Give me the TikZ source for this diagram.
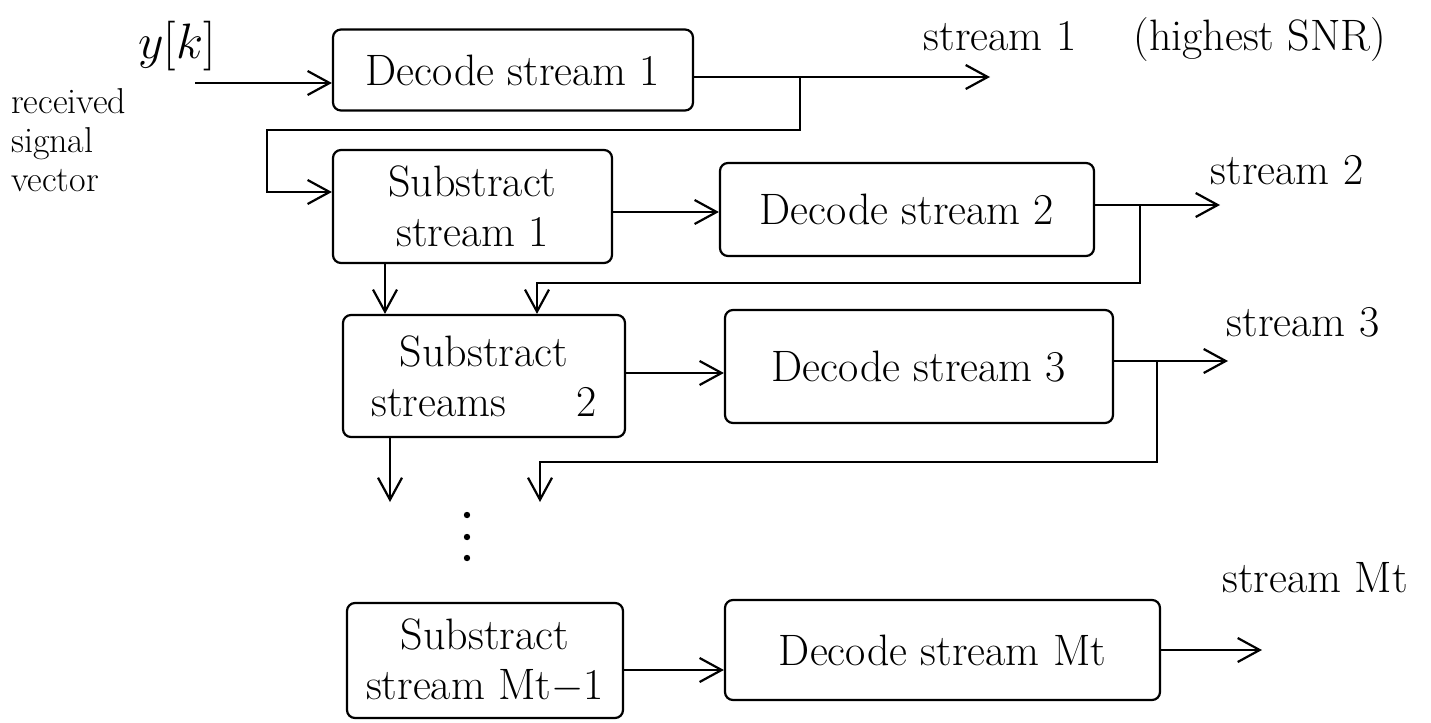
\documentclass[tikz,border=0pt]{standalone}
\usetikzlibrary{arrows.meta}
\begin{document}
\begin{tikzpicture}[x=0.5pt,y=-0.5pt,
  line width=1.1pt,
  tip/.style={-{Straight Barb[length=11pt,width=12pt,line width=1.1pt]}},
  blk/.style={draw, rounded corners=4pt, inner sep=2pt, align=center,
              font=\fontsize{22}{25}\selectfont},
  lbl/.style={font=\fontsize{22}{25}\selectfont, inner sep=0pt},
]
\useasboundingbox (0,0) rectangle (1431,723);
\fill[white] (0,0) rectangle (1431,723);

% processing blocks
\node[blk, minimum width=180pt,   minimum height=40.5pt] (d1) at (513,70)      {Decode stream 1};
\node[blk, minimum width=139.5pt, minimum height=56.5pt] (s1) at (472.5,206.5) {Substract\\stream 1};
\node[blk, minimum width=187pt,   minimum height=46.5pt] (d2) at (907,209.5)   {Decode stream 2};
\node[blk, minimum width=141pt,   minimum height=61pt]   (s2) at (484,376)     {Substract\\streams\hspace{1.6em}2};
\node[blk, minimum width=194pt,   minimum height=56.5pt] (d3) at (919,366.5)   {Decode stream 3};
\node[blk, minimum width=138pt,   minimum height=57.5pt] (sM) at (485,660.5)   {Substract\\stream Mt$-$1};
\node[blk, minimum width=217.5pt, minimum height=50pt]   (dM) at (942.5,650)   {Decode stream Mt};

% labels
\node[lbl, font=\fontsize{28}{30}\selectfont] (yk) at (177,46) {$y[k]$};
\node[lbl, align=left, anchor=west, font=\fontsize{18}{19.5}\selectfont] (rx) at (10,140) {received\\signal\\vector};
\node[lbl] (l1) at (1155,40)  {stream 1\hspace{1.3em}(highest SNR)};
\node[lbl] (l2) at (1287,170) {stream 2};
\node[lbl] (l3) at (1303,322) {stream 3};
\node[lbl] (lM) at (1315,578) {stream Mt};

% junction and end points
\coordinate (in)  at (195,83);
\coordinate (o1)  at (990,77);
\coordinate (t1)  at (800,77);
\coordinate (t1a) at (800,130);
\coordinate (t1b) at (267,130);
\coordinate (t1c) at (267,192);
\coordinate (h2)  at (660,212);
\coordinate (o2)  at (1220,205);
\coordinate (t2)  at (1140,205);
\coordinate (t2a) at (1140,283);
\coordinate (t2b) at (537,283);
\coordinate (v1)  at (385,290);
\coordinate (h3)  at (670,373);
\coordinate (o3)  at (1228,361);
\coordinate (t3)  at (1157,361);
\coordinate (t3a) at (1157,462);
\coordinate (t3b) at (540,462);
\coordinate (e3)  at (540,502);
\coordinate (e2)  at (390,502);
\coordinate (hM)  at (670,670);
\coordinate (oM)  at (1262,650);

% stage 1
\draw[tip] (in) -- (in -| d1.west);
\draw[tip] (d1.east |- o1) -- (o1);
\draw[tip] (t1) -- (t1a) -- (t1b) -- (t1c) -- (t1c -| s1.west);
\draw[tip] (s1.east |- h2) -- (d2.west |- h2);

% stage 2
\draw[tip] (d2.east |- o2) -- (o2);
\draw[tip] (t2) -- (t2a) -- (t2b) -- (t2b |- s2.north);
\draw[tip] (s1.south -| v1) -- (s2.north -| v1);
\draw[tip] (s2.east |- h3) -- (d3.west |- h3);

% stage 3
\draw[tip] (d3.east |- o3) -- (o3);
\draw[tip] (t3) -- (t3a) -- (t3b) -- (e3);
\draw[tip] (s2.south -| e2) -- (e2);

% vertical ellipsis
\fill (467,515) circle (1.6pt);
\fill (467,537) circle (1.6pt);
\fill (467,558) circle (1.6pt);

% last stage
\draw[tip] (sM.east |- hM) -- (dM.west |- hM);
\draw[tip] (dM.east |- oM) -- (oM);
\end{tikzpicture}
\end{document}
